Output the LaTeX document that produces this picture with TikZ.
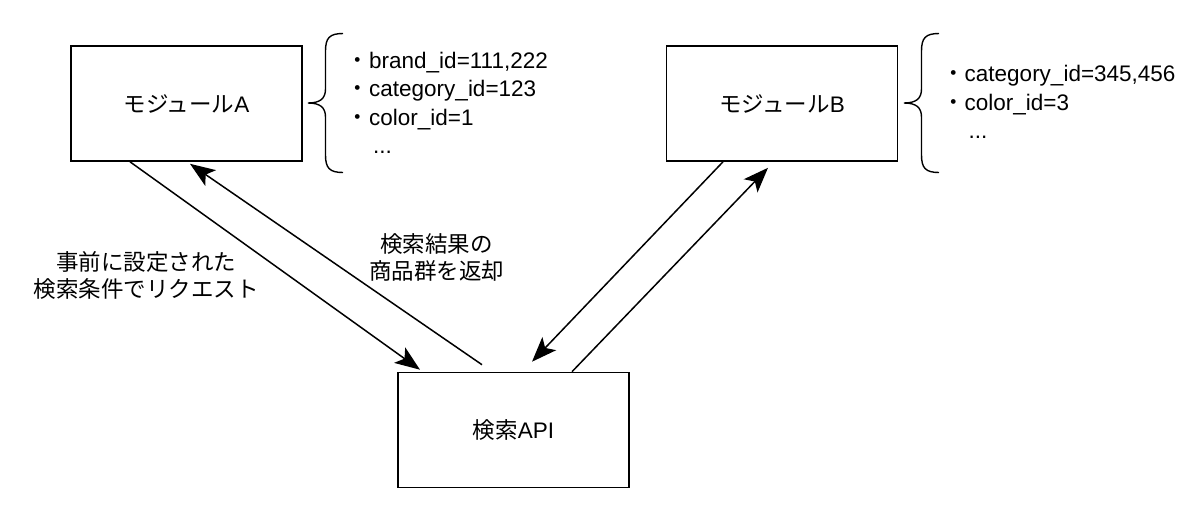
\documentclass[tikz,border=0pt]{standalone}
\usepackage{fontspec}
\setmainfont{Liberation Sans}
\newfontfamily\jpfont{Noto Sans CJK JP}
\usetikzlibrary{arrows.meta}
\tikzset{
    module/.style={rectangle,draw,line width=1.6pt,minimum width=231pt,minimum height=115pt,font=\fontsize{22.5}{27}\selectfont},
    note/.style={align=center,inner sep=0pt,font=\jpfont\fontsize{22.5}{27}\selectfont},
    params/.style={align=left,anchor=west,inner sep=0pt,font=\fontsize{22.5}{28.5}\selectfont},
    call/.style={-{Stealth[length=25pt 0 0,width=19pt 0 0,inset=6pt 0 0]},line width=1.5pt},
    curly/.pic={
        \draw[line width=1.4pt] (17.5,-69.5) .. controls (4,-69.5) and (0,-65) .. (0,-52) -- (0,-14)
            .. controls (0,-4) and (-6,0) .. (-17.5,0) .. controls (-6,0) and (0,4) .. (0,14) -- (0,52)
            .. controls (0,65) and (4,69.5) .. (17.5,69.5);
    },
}

\begin{document}
\begin{tikzpicture}[x=1pt,y=-1pt]
    \fill[white] (0,0) rectangle (1200,515);
    \useasboundingbox (0,0) rectangle (1200,515);
    \node[module] (A) at (186.5,103.5) {{\jpfont モジュール}A};
    \node[module] (B) at (782,103.5) {{\jpfont モジュール}B};
    \node[module] (API) at (513.5,430) {{\jpfont 検索}API};
    % parameter lists
    \pic at (325.5,103) {curly};
    \pic at (921.5,103) {curly};
    \node[params] (pa) at (346.5,103) {{\jpfont ・}brand\_id=111,222\\{\jpfont ・}category\_id=123\\{\jpfont ・}color\_id=1\\\hspace*{26.5pt}...};
    \node[params] (pb) at (942,102) {{\jpfont ・}category\_id=345,456\\{\jpfont ・}color\_id=3\\\hspace*{26.5pt}...};
    % requests and results
    \draw[call] ([xshift=-56.5pt]A.south) -- ([xshift=-93.5pt,yshift=2pt]API.north);
    \draw[call] ([xshift=-31.5pt,yshift=7pt]API.north) -- ([xshift=3.5pt,yshift=-2pt]A.south);
    \draw[call] ([xshift=-59pt]B.south) -- ([xshift=18.5pt,yshift=10pt]API.north);
    \draw[call] ([xshift=58.5pt]API.north) -- ([xshift=-14pt,yshift=-6pt]B.south);
    \node[note] (req) at (146.5,275) {事前に設定された\\検索条件でリクエスト};
    \node[note] (res) at (436.5,257) {検索結果の\\商品群を返却};
\end{tikzpicture}
\end{document}
